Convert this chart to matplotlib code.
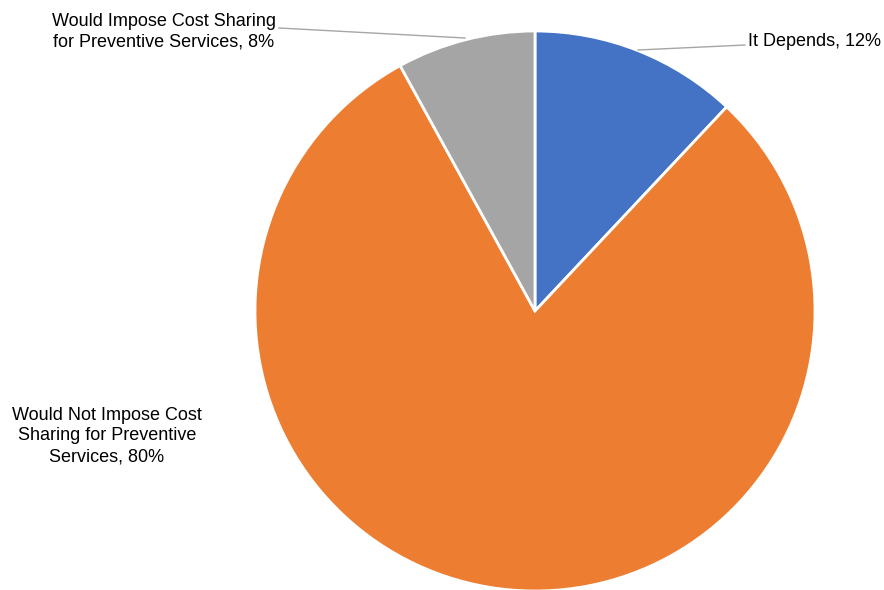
import matplotlib
matplotlib.use("Agg")
import matplotlib.pyplot as plt

plt.rcParams['font.family'] = ['Liberation Sans', 'DejaVu Sans']

labels = ['It Depends, 12%',
          'Would Not Impose Cost\nSharing for Preventive\nServices, 80%',
          'Would Impose Cost Sharing\nfor Preventive Services, 8%']
values = [12, 80, 8]
colors = ['#4472C4', '#ED7D31', '#A5A5A5']

W, H = 884, 590
cx, cy, r = 535, 311, 280  # pie centre / radius in pixels

fig = plt.figure(figsize=(W / 100, H / 100), dpi=100)
ax = fig.add_axes([(cx - r) / W, (H - cy - r) / H, 2 * r / W, 2 * r / H])
ax.pie(values, colors=colors, startangle=90, counterclock=False, radius=1,
       wedgeprops=dict(edgecolor='white', linewidth=2))
ax.set_xlim(-1, 1)
ax.set_ylim(-1, 1)
ax.set_aspect('equal')
ax.axis('off')


def d(px, py):
    return (px - cx) / r, (cy - py) / r


# leader lines
lc = '#A6A6A6'
x0, y0 = d(638, 50)
x1, y1 = d(745, 45)
ax.plot([x0, x1], [y0, y1], color=lc, lw=1, clip_on=False)
x0, y0 = d(465, 38)
x1, y1 = d(279, 28)
ax.plot([x0, x1], [y0, y1], color=lc, lw=1, clip_on=False)

fs = 13
tx, ty = d(748, 41)
ax.text(tx, ty, labels[0], ha='left', va='center', fontsize=fs, color='#000000')
tx, ty = d(164, 32)
ax.text(tx, ty, labels[2], ha='center', va='center', fontsize=fs,
        multialignment='center', linespacing=1.3)
tx, ty = d(107, 436)
ax.text(tx, ty, labels[1], ha='center', va='center', fontsize=fs,
        multialignment='center', linespacing=1.3)

fig.savefig('out.png', dpi=100)
